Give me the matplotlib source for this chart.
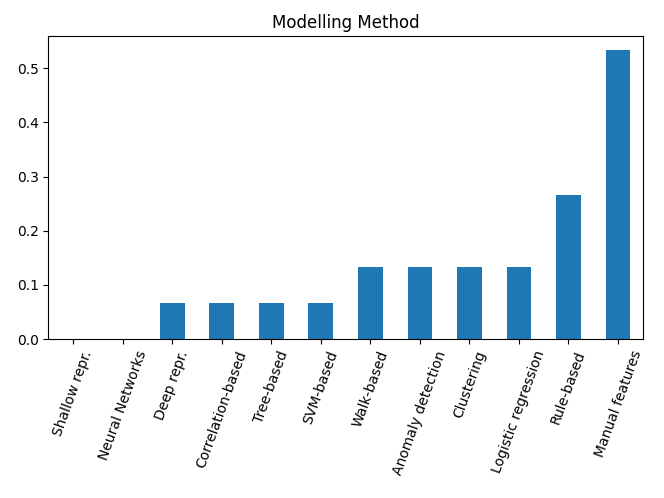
import matplotlib
matplotlib.use('Agg')
import matplotlib.pyplot as plt
import pandas as pd

methods = ['Shallow repr.', 'Neural Networks', 'Deep repr.', 'Correlation-based',
           'Tree-based', 'SVM-based', 'Walk-based', 'Anomaly detection',
           'Clustering', 'Logistic regression', 'Rule-based', 'Manual features']
shares = [0.0, 0.0, 0.0667, 0.0667, 0.0667, 0.0667, 0.1333, 0.1333,
          0.1333, 0.1333, 0.2667, 0.5333]

data = pd.Series(shares, index=methods)

fig = plt.figure(figsize=(6.64, 4.98), dpi=100)
ax = data.plot(kind='bar', color='#1f77b4')
ax.set_title('Modelling Method')
plt.xticks(rotation=70)
plt.subplots_adjust(left=0.073, right=0.968, top=0.928, bottom=0.319)
plt.savefig('out.png')
